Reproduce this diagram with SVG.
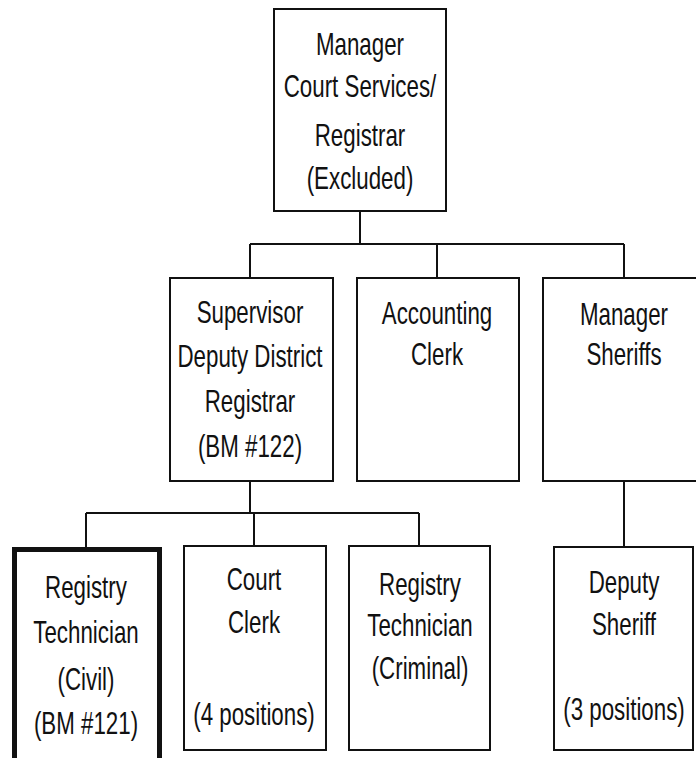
<svg xmlns="http://www.w3.org/2000/svg" width="696" height="758" viewBox="0 0 696 758">
<style>
.box{fill:#fff;stroke:#111;stroke-width:2}
.thick{stroke-width:5}
.ln{fill:none;stroke:#111;stroke-width:2}
.t{font-family:"Liberation Sans",Arial,sans-serif;font-size:31px;text-anchor:middle;fill:#111}
</style>
<rect width="696" height="758" fill="#fff"/>
<g id="connectors">
<path class="ln" d="M360 211V244M250 244H624M250 244V278M437 244V278M624 244V278"/>
<path class="ln" d="M250 481V513M86 513H419M86 513V547M254 513V546M419 513V546"/>
<path class="ln" d="M624 481V547"/>
</g>
<g id="manager-court-services">
<rect class="box" x="274" y="9" width="172" height="202"/>
<g transform="translate(360 0) scale(0.72 1)">
<text class="t" x="0" y="55">Manager</text>
<text class="t" x="0" y="97">Court Services/</text>
<text class="t" x="0" y="146">Registrar</text>
<text class="t" x="0" y="189">(Excluded)</text>
</g>
</g>
<g id="supervisor">
<rect class="box" x="170" y="278" width="163" height="203"/>
<g transform="translate(250 0) scale(0.72 1)">
<text class="t" x="0" y="323">Supervisor</text>
<text class="t" x="0" y="367">Deputy District</text>
<text class="t" x="0" y="412">Registrar</text>
<text class="t" x="0" y="457">(BM #122)</text>
</g>
</g>
<g id="accounting-clerk">
<rect class="box" x="357" y="278" width="162" height="203"/>
<g transform="translate(437 0) scale(0.72 1)">
<text class="t" x="0" y="324">Accounting</text>
<text class="t" x="0" y="365">Clerk</text>
</g>
</g>
<g id="manager-sheriffs">
<rect class="box" x="543" y="278" width="165" height="203"/>
<g transform="translate(624 0) scale(0.72 1)">
<text class="t" x="0" y="325">Manager</text>
<text class="t" x="0" y="365">Sheriffs</text>
</g>
</g>
<g id="registry-technician-civil">
<rect class="box thick" x="14.5" y="549.5" width="145" height="212"/>
<g transform="translate(86 0) scale(0.72 1)">
<text class="t" x="0" y="598">Registry</text>
<text class="t" x="0" y="643">Technician</text>
<text class="t" x="0" y="690">(Civil)</text>
<text class="t" x="0" y="734">(BM #121)</text>
</g>
</g>
<g id="court-clerk">
<rect class="box" x="184" y="546" width="142" height="204"/>
<g transform="translate(254 0) scale(0.72 1)">
<text class="t" x="0" y="590">Court</text>
<text class="t" x="0" y="633">Clerk</text>
<text class="t" x="0" y="725">(4 positions)</text>
</g>
</g>
<g id="registry-technician-criminal">
<rect class="box" x="349" y="546" width="141" height="204"/>
<g transform="translate(420 0) scale(0.72 1)">
<text class="t" x="0" y="595">Registry</text>
<text class="t" x="0" y="636">Technician</text>
<text class="t" x="0" y="679">(Criminal)</text>
</g>
</g>
<g id="deputy-sheriff">
<rect class="box" x="554" y="547" width="139" height="203"/>
<g transform="translate(624 0) scale(0.72 1)">
<text class="t" x="0" y="593">Deputy</text>
<text class="t" x="0" y="635">Sheriff</text>
<text class="t" x="0" y="720">(3 positions)</text>
</g>
</g>
</svg>
